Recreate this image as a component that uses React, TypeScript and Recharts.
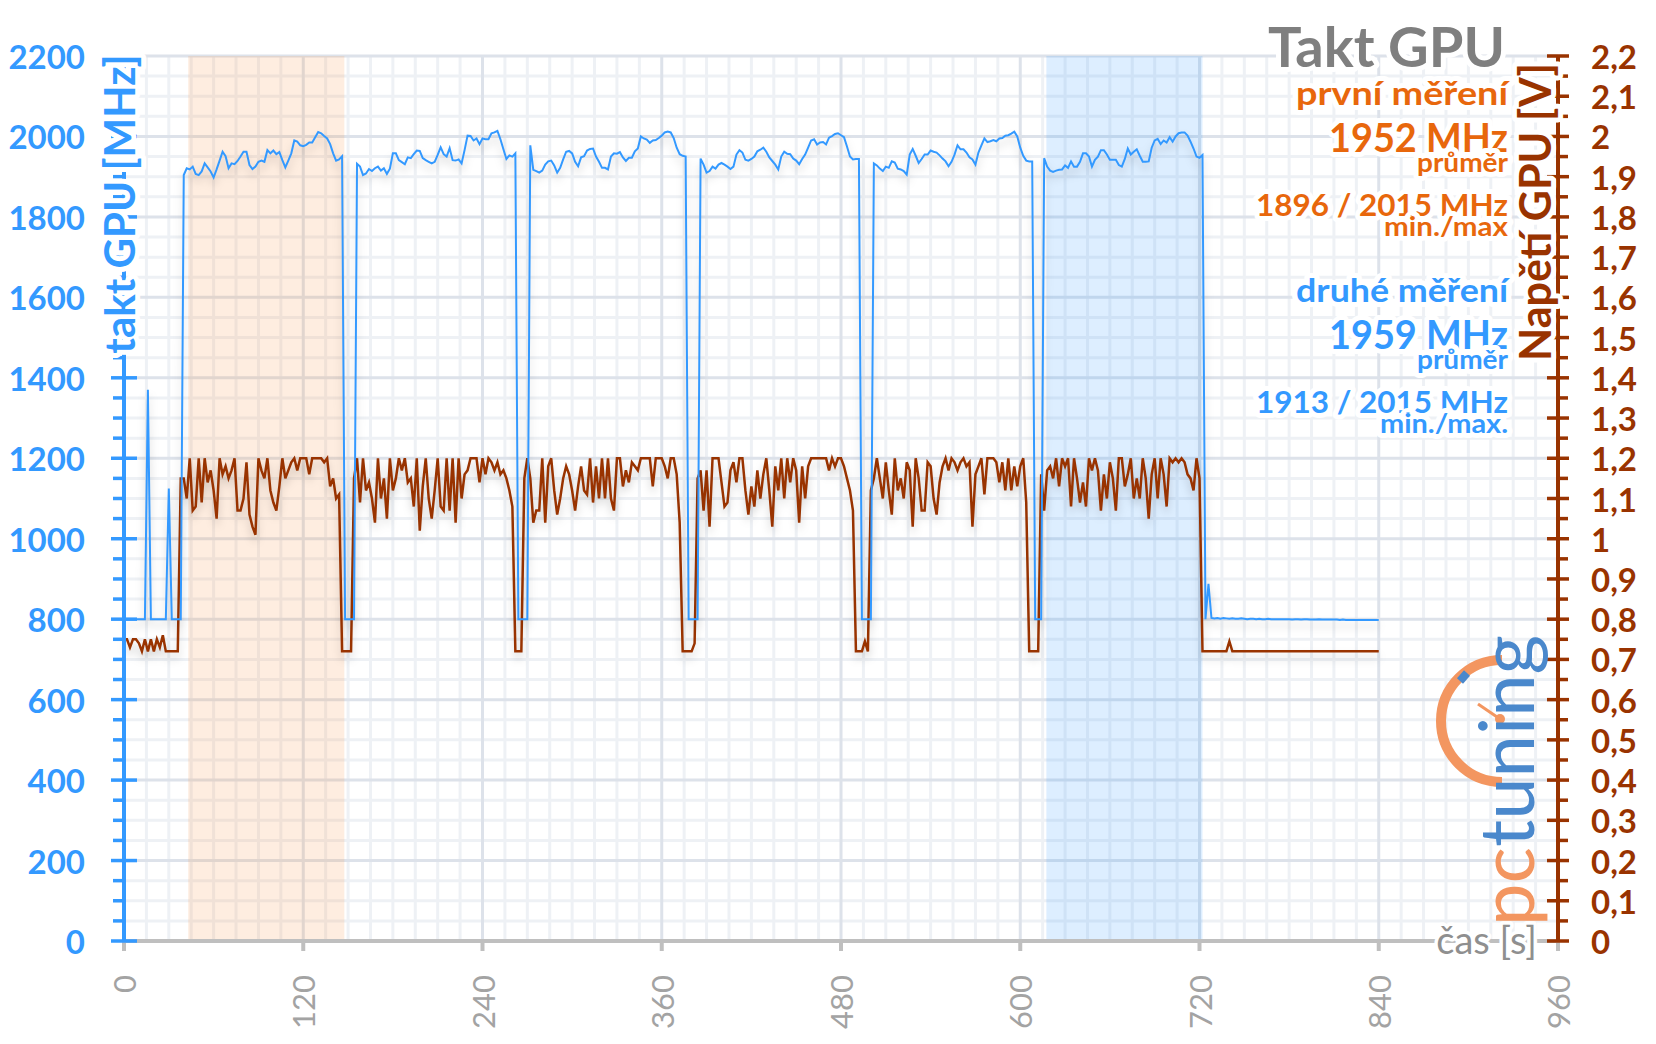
import React from 'react';
import { LineChart, Line, XAxis, YAxis, ReferenceLine, ReferenceArea } from 'recharts';

// sampling step of the log, seconds
const STEP = 2;

// GPU clock [MHz], one value every STEP seconds from 0 s
const clockMHz = [
	800, 800, 800, 800, 800, 800, 800, 800, 1370, 800, 800, 800, 800, 800, 800,
	1125, 800, 800, 800, 800, 1904, 1921, 1918, 1925, 1907, 1904, 1913, 1933, 1923, 1913,
	1898, 1918, 1940, 1962, 1951, 1921, 1933, 1931, 1939, 1950, 1962, 1962, 1929, 1919, 1925,
	1937, 1940, 1937, 1966, 1958, 1965, 1956, 1961, 1941, 1923, 1940, 1958, 1990, 1987, 1978,
	1976, 1979, 1985, 1985, 1998, 2011, 2008, 2001, 1995, 1981, 1958, 1940, 1943, 1951, 800,
	800, 800, 800, 1932, 1925, 1904, 1908, 1919, 1914, 1921, 1925, 1915, 1921, 1907, 1920,
	1958, 1958, 1941, 1936, 1931, 1948, 1946, 1956, 1965, 1964, 1946, 1941, 1937, 1933, 1937,
	1954, 1973, 1956, 1950, 1971, 1941, 1940, 1943, 1933, 1966, 2002, 2001, 1990, 1995, 1981,
	1995, 1993, 1993, 2008, 2010, 2014, 1993, 1968, 1944, 1953, 1950, 1958, 800, 800, 800,
	800, 1978, 1917, 1914, 1910, 1915, 1930, 1938, 1940, 1928, 1910, 1922, 1943, 1962, 1964,
	1958, 1937, 1926, 1948, 1951, 1965, 1969, 1970, 1950, 1937, 1922, 1922, 1918, 1950, 1958,
	1957, 1961, 1948, 1939, 1947, 1947, 1963, 1970, 2000, 1995, 1992, 1984, 1990, 1991, 1996,
	2002, 2010, 2012, 2010, 1996, 1972, 1956, 1952, 1950, 800, 800, 800, 800, 1945, 1930,
	1910, 1914, 1925, 1920, 1930, 1934, 1930, 1925, 1919, 1925, 1955, 1966, 1960, 1942, 1940,
	1944, 1950, 1963, 1967, 1972, 1962, 1948, 1939, 1930, 1918, 1950, 1962, 1957, 1956, 1945,
	1940, 1931, 1944, 1955, 1972, 1990, 1993, 1980, 1985, 1986, 1980, 1997, 2001, 2006, 2008,
	2003, 1998, 1975, 1950, 1943, 1944, 1944, 800, 800, 800, 800, 1933, 1928, 1920, 1914,
	1925, 1922, 1938, 1935, 1920, 1918, 1914, 1905, 1955, 1969, 1952, 1934, 1944, 1955, 1955,
	1965, 1962, 1960, 1953, 1945, 1938, 1926, 1937, 1955, 1978, 1968, 1968, 1960, 1948, 1943,
	1930, 1960, 1978, 1995, 1986, 1988, 1991, 1988, 1995, 1996, 2002, 2003, 2007, 2012, 2000,
	1972, 1952, 1940, 1938, 1938, 800, 800, 800, 1946, 1925, 1915, 1912, 1915, 1917, 1918,
	1928, 1922, 1938, 1925, 1925, 1937, 1958, 1958, 1950, 1925, 1942, 1950, 1966, 1966, 1955,
	1942, 1942, 1942, 1929, 1925, 1944, 1970, 1955, 1962, 1968, 1952, 1937, 1937, 1938, 1972,
	1990, 1994, 1981, 1990, 1985, 1998, 1987, 2000, 2008, 2010, 2010, 2002, 1987, 1970, 1950,
	1947, 1954, 800, 888, 803, 802, 803, 801, 803, 802, 801, 802, 801, 801, 802,
	801, 800, 801, 801, 800, 801, 800, 800, 801, 800, 800, 800, 800, 800, 800,
	800, 799, 800, 800, 799, 800, 800, 799, 799, 799, 800, 799, 799, 799, 799,
	799, 799, 798, 799, 798, 798, 798, 798, 798, 798, 798, 798, 798, 798, 798,
	798,
];

// GPU voltage [V], same sampling
const voltageV = [
	0.75, 0.75, 0.73, 0.75, 0.75, 0.74, 0.72, 0.75, 0.72, 0.75, 0.72, 0.75, 0.73, 0.76, 0.72,
	0.72, 0.72, 0.72, 0.72, 1.15, 1.15, 1.1, 1.2, 1.07, 1.08, 1.2, 1.09, 1.2, 1.14, 1.17,
	1.12, 1.05, 1.2, 1.16, 1.18, 1.15, 1.17, 1.2, 1.07, 1.07, 1.1, 1.19, 1.06, 1.03, 1.01,
	1.2, 1.17, 1.15, 1.2, 1.12, 1.09, 1.07, 1.13, 1.2, 1.15, 1.17, 1.19, 1.2, 1.17, 1.2,
	1.2, 1.2, 1.16, 1.2, 1.2, 1.2, 1.2, 1.19, 1.2, 1.13, 1.15, 1.1, 1.11, 0.72, 0.72,
	0.72, 0.72, 1.15, 1.2, 1.09, 1.2, 1.12, 1.14, 1.1, 1.04, 1.2, 1.1, 1.15, 1.05, 1.2,
	1.12, 1.15, 1.2, 1.17, 1.2, 1.14, 1.15, 1.08, 1.2, 1.02, 1.13, 1.2, 1.1, 1.05, 1.12,
	1.2, 1.08, 1.07, 1.2, 1.07, 1.2, 1.04, 1.2, 1.1, 1.16, 1.17, 1.2, 1.2, 1.2, 1.14,
	1.2, 1.16, 1.2, 1.19, 1.17, 1.19, 1.16, 1.17, 1.15, 1.12, 1.08, 0.72, 0.72, 0.72, 1.15,
	1.2, 1.15, 1.04, 1.07, 1.07, 1.2, 1.04, 1.18, 1.2, 1.12, 1.06, 1.1, 1.15, 1.18, 1.16,
	1.12, 1.07, 1.13, 1.18, 1.12, 1.11, 1.2, 1.09, 1.18, 1.1, 1.2, 1.1, 1.2, 1.1, 1.07,
	1.2, 1.2, 1.13, 1.17, 1.14, 1.19, 1.18, 1.17, 1.2, 1.2, 1.2, 1.2, 1.13, 1.2, 1.2,
	1.2, 1.18, 1.15, 1.2, 1.2, 1.16, 1.04, 0.72, 0.72, 0.72, 0.72, 0.74, 1.15, 1.17, 1.07,
	1.17, 1.03, 1.2, 1.2, 1.2, 1.14, 1.08, 1.09, 1.17, 1.19, 1.14, 1.2, 1.2, 1.12, 1.06,
	1.13, 1.08, 1.17, 1.1, 1.16, 1.2, 1.12, 1.03, 1.18, 1.12, 1.2, 1.1, 1.2, 1.14, 1.2,
	1.17, 1.04, 1.18, 1.1, 1.18, 1.2, 1.2, 1.2, 1.2, 1.2, 1.2, 1.17, 1.2, 1.18, 1.2,
	1.2, 1.18, 1.15, 1.12, 1.07, 0.72, 0.72, 0.72, 0.745, 0.72, 1.12, 1.15, 1.2, 1.15, 1.1,
	1.19, 1.12, 1.06, 1.2, 1.12, 1.15, 1.1, 1.19, 1.17, 1.03, 1.2, 1.15, 1.07, 1.07, 1.19,
	1.18, 1.1, 1.06, 1.14, 1.18, 1.2, 1.17, 1.2, 1.19, 1.17, 1.19, 1.2, 1.18, 1.19, 1.03,
	1.16, 1.18, 1.2, 1.11, 1.2, 1.2, 1.2, 1.19, 1.14, 1.19, 1.12, 1.2, 1.12, 1.18, 1.13,
	1.18, 1.2, 1.09, 0.72, 0.72, 0.72, 0.72, 1.16, 1.07, 1.17, 1.18, 1.15, 1.2, 1.13, 1.2,
	1.18, 1.2, 1.08, 1.2, 1.15, 1.09, 1.14, 1.08, 1.2, 1.17, 1.2, 1.17, 1.07, 1.16, 1.1,
	1.19, 1.15, 1.07, 1.2, 1.2, 1.13, 1.16, 1.2, 1.1, 1.15, 1.1, 1.2, 1.15, 1.05, 1.16,
	1.2, 1.1, 1.2, 1.16, 1.08, 1.2, 1.19, 1.2, 1.19, 1.2, 1.19, 1.16, 1.15, 1.12, 1.2,
	1.15, 0.72, 0.72, 0.72, 0.72, 0.72, 0.72, 0.72, 0.72, 0.72, 0.745, 0.72, 0.72, 0.72, 0.72,
	0.72, 0.72, 0.72, 0.72, 0.72, 0.72, 0.72, 0.72, 0.72, 0.72, 0.72, 0.72, 0.72, 0.72, 0.72,
	0.72, 0.72, 0.72, 0.72, 0.72, 0.72, 0.72, 0.72, 0.72, 0.72, 0.72, 0.72, 0.72, 0.72, 0.72,
	0.72, 0.72, 0.72, 0.72, 0.72, 0.72, 0.72, 0.72, 0.72, 0.72, 0.72, 0.72, 0.72, 0.72, 0.72,
	0.72,
];

const timeTicks = [0, 120, 240, 360, 480, 600, 720, 840, 960];
const clockTicks = [0, 200, 400, 600, 800, 1000, 1200, 1400, 1600, 1800, 2000, 2200];
const voltTicks = [0, 0.1, 0.2, 0.3, 0.4, 0.5, 0.6, 0.7, 0.8, 0.9, 1, 1.1, 1.2, 1.3, 1.4, 1.5, 1.6, 1.7, 1.8, 1.9, 2, 2.1, 2.2];

// highlighted runs (seconds)
const firstRun = [43, 147.5];
const secondRun = [617.5, 722];

const firstStats = ['první měření', '1952 MHz', 'průměr', '1896 / 2015 MHz', 'min./max'];
const secondStats = ['druhé měření', '1959 MHz', 'průměr', '1913 / 2015 MHz', 'min./max.'];

const BLUE = '#3399ff';
const BROWN = '#993300';
const ORANGE = '#e8670c';
const AXIS_GRAY = '#bfbfbf';
const FONT = 'Lato, "Open Sans", sans-serif';

const data = clockMHz.map((c, i) => ({ t: i * STEP, clock: c, volt: voltageV[i] }));

// grid values: 8 steps per 120 s, 4 steps per 200 MHz
const minorTime: number[] = [];
for (let i = 0; i < timeTicks.length - 1; i++) {
	const d = (timeTicks[i + 1] - timeTicks[i]) / 8;
	for (let k = 1; k < 8; k++) minorTime.push(timeTicks[i] + k * d);
}
const minorClock: number[] = [];
const allClockTicks: number[] = [];
for (let i = 0; i < clockTicks.length; i++) {
	allClockTicks.push(clockTicks[i]);
	if (i < clockTicks.length - 1) {
		const d = (clockTicks[i + 1] - clockTicks[i]) / 4;
		for (let k = 1; k < 4; k++) {
			minorClock.push(clockTicks[i] + k * d);
			allClockTicks.push(clockTicks[i] + k * d);
		}
	}
}
const allVoltTicks: number[] = [];
voltTicks.forEach((v, i) => {
	allVoltTicks.push(v);
	if (i < voltTicks.length - 1) allVoltTicks.push(Math.round((v + 0.05) * 100) / 100);
});

const fmtVolt = (v: number) => {
	const r = Math.round(v * 10) / 10;
	return String(r).replace('.', ',');
};

const LeftTick = (props: any) => {
	const { x, y, payload } = props;
	const major = payload.value % 200 === 0;
	if (!major) {
		return <line x1={x - 11} x2={x} y1={y} y2={y} stroke={BLUE} strokeWidth={3.5} />;
	}
	return (
		<g>
			<line x1={x - 13} x2={x + 13} y1={y} y2={y} stroke={BLUE} strokeWidth={3.5} />
			<text x={x - 39} y={y} textAnchor="end" dominantBaseline="central" fill={BLUE} fontFamily={FONT} fontWeight={700} fontSize={33}>
				{payload.value}
			</text>
		</g>
	);
};

const RightTick = (props: any) => {
	const { x, y, payload } = props;
	const v = Math.round(payload.value * 100);
	const major = v % 10 === 0;
	if (!major) {
		return <line x1={x} x2={x + 10} y1={y} y2={y} stroke={BROWN} strokeWidth={3.5} />;
	}
	return (
		<g>
			<line x1={x - 11} x2={x + 11} y1={y} y2={y} stroke={BROWN} strokeWidth={3.5} />
			<text x={x + 33} y={y} textAnchor="start" dominantBaseline="central" fill={BROWN} fontFamily={FONT} fontWeight={700} fontSize={33}>
				{fmtVolt(payload.value)}
			</text>
		</g>
	);
};

const BottomTick = (props: any) => {
	const { x, y, payload } = props;
	return (
		<g>
			<line x1={x} x2={x} y1={y} y2={y + 10} stroke={AXIS_GRAY} strokeWidth={4} />
			<text x={x} y={y + 34} transform={`rotate(-90 ${x} ${y + 34})`} textAnchor="end" dominantBaseline="central" fill="#a3a3a3" fontFamily={FONT} fontSize={31}>
				{payload.value}
			</text>
		</g>
	);
};

// white outline round texts, as in the original
const Halo = (props: any) => <text stroke="#fff" strokeWidth={10} strokeLinejoin="round" paintOrder="stroke" {...props} />;

const StatsBlock = ({ lines, color, top }: { lines: string[]; color: string; top: number }) => {
	const base = [0, 47, 67, 111, 131];
	const sizes = [33, 40, 27, 31, 26];
	const widths = [212, 179, 91, 252, 124];
	return (
		<g fill={color} fontFamily={FONT} fontWeight={700} textAnchor="end">
			{lines.map((s, i) => (
				<Halo key={i} x={1508} y={top + base[i]} fontSize={sizes[i]} textLength={widths[i] + (i === 4 && s.endsWith('.') ? 4 : 0)} lengthAdjust="spacingAndGlyphs">
					{s}
				</Halo>
			))}
		</g>
	);
};

const Overlay = () => (
	<svg width={1656} height={1044} style={{ position: 'absolute', left: 0, top: 0, pointerEvents: 'none' }}>
		<Halo x={1505} y={67} textAnchor="end" fill="#7f7f7f" fontFamily={FONT} fontWeight={700} fontSize={56}>
			Takt GPU
		</Halo>
		<StatsBlock lines={firstStats} color={ORANGE} top={105} />
		<StatsBlock lines={secondStats} color={BLUE} top={302} />

		<Halo x={119} y={204} transform="rotate(-90 119 204)" textAnchor="middle" dominantBaseline="central" fill={BLUE} fontFamily={FONT} fontWeight={700} fontSize={42}>
			takt GPU [MHz]
		</Halo>
		<Halo x={1534} y={212} transform="rotate(-90 1534 212)" textAnchor="middle" dominantBaseline="central" fill={BROWN} fontFamily={FONT} fontWeight={700} fontSize={43}>
			Napětí GPU [V]
		</Halo>

		<Halo x={1537} y={954} textAnchor="end" fill="#8f8f8f" fontFamily={FONT} fontSize={38} strokeWidth={7}>
			čas [s]
		</Halo>

		{/* pctuning watermark */}
		<g>
			<path d="M 1502 660 A 61 61 0 0 0 1502 782" fill="none" stroke="#f39660" strokeWidth={10} />
			<line x1={1460} y1={681} x2={1467} y2={673} stroke="#4a88cc" strokeWidth={8} />
			<line x1={1478} y1={704} x2={1500} y2={719} stroke="#f39660" strokeWidth={3} />
			<circle cx={1500} cy={719} r={5} fill="#f39660" />
			<text x={1534} y={926} transform="rotate(-90 1534 926)" fontFamily={FONT} fontWeight={400} fontSize={76}>
				<tspan fill="#f39660">pc</tspan>
				<tspan fill="#4a88cc">tuning</tspan>
			</text>
		</g>
	</svg>
);

const App = () => {
	return (
		<div style={{ position: 'absolute', left: 0, top: 0, width: 1656, height: 1044, background: '#fff' }}>
			<style>{`.recharts-line-curve { filter: drop-shadow(0px 6px 4px rgba(0,0,0,0.18)); }`}</style>
			<LineChart width={1656} height={1044} data={data} margin={{ top: 56, right: 0, bottom: 0, left: 0 }}>
				{minorTime.map((v) => (
					<ReferenceLine key={'mt' + v} x={v} yAxisId="clock" stroke="#eef1f5" strokeWidth={3} zIndex={-90} />
				))}
				{minorClock.map((v) => (
					<ReferenceLine key={'mc' + v} y={v} yAxisId="clock" stroke="#eef1f5" strokeWidth={3} zIndex={-90} />
				))}
				{timeTicks.slice(1, -1).map((v) => (
					<ReferenceLine key={'Mt' + v} x={v} yAxisId="clock" stroke="#dde2ea" strokeWidth={3} zIndex={-85} />
				))}
				{clockTicks.slice(1).map((v) => (
					<ReferenceLine key={'Mc' + v} y={v} yAxisId="clock" stroke="#dde2ea" strokeWidth={3} zIndex={-85} />
				))}
				<ReferenceArea x1={firstRun[0]} x2={firstRun[1]} yAxisId="clock" fill="#f79646" fillOpacity={0.17} stroke="none" zIndex={-80} />
				<ReferenceArea x1={secondRun[0]} x2={secondRun[1]} yAxisId="clock" fill="#3399ff" fillOpacity={0.17} stroke="none" zIndex={-80} />

				<XAxis
					dataKey="t"
					type="number"
					domain={[0, 960]}
					ticks={timeTicks}
					interval={0}
					height={103}
					tickSize={0}
					tickMargin={0}
					tickLine={false}
					axisLine={{ stroke: AXIS_GRAY, strokeWidth: 4 }}
					tick={<BottomTick />}
				/>
				<YAxis
					yAxisId="clock"
					orientation="left"
					domain={[0, 2200]}
					ticks={allClockTicks}
					interval={0}
					width={124}
					tickSize={0}
					tickMargin={0}
					tickLine={false}
					axisLine={{ stroke: BLUE, strokeWidth: 4 }}
					tick={<LeftTick />}
				/>
				<YAxis
					yAxisId="volt"
					orientation="right"
					domain={[0, 2.2]}
					ticks={allVoltTicks}
					interval={0}
					width={98}
					tickSize={0}
					tickMargin={0}
					tickLine={false}
					axisLine={{ stroke: BROWN, strokeWidth: 4 }}
					tick={<RightTick />}
				/>

				<Line yAxisId="volt" dataKey="volt" type="linear" stroke={BROWN} strokeWidth={2.5} dot={false} isAnimationActive={false} />
				<Line yAxisId="clock" dataKey="clock" type="linear" stroke={BLUE} strokeWidth={2} dot={false} isAnimationActive={false} />
			</LineChart>
			<Overlay />
		</div>
	);
};

export default App;
